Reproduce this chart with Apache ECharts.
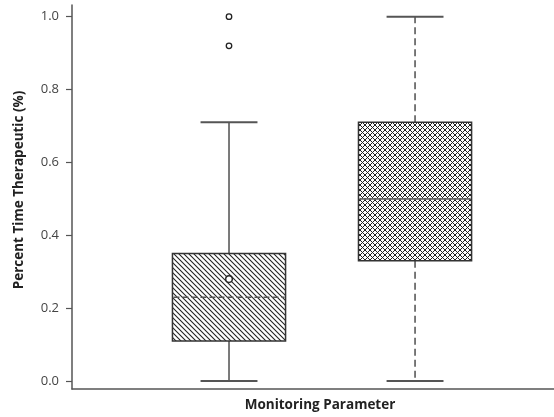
<!DOCTYPE html>
<html>
<head>
<meta charset="utf-8">
<script src="https://cdn.jsdelivr.net/npm/echarts@6/dist/echarts.min.js"></script>
<style>
html,body{margin:0;padding:0;background:#fff;}
#chart{width:554px;height:417px;}
</style>
</head>
<body>
<div id="chart"></div>
<script>
// ---- data ----
const categories = ['Parameter A', 'Parameter B'];
const positions = [1, 2];
const whiskerLow = [0.00, 0.00];
const q1 = [0.11, 0.33];
const median = [0.23, 0.50];
const q3 = [0.35, 0.71];
const whiskerHigh = [0.71, 1.00];
const means = [0.28, null];
const outlierCategory = [0, 0];
const outlierValues = [0.92, 1.00];
const yTicks = [0, 0.2, 0.4, 0.6, 0.8, 1.0];

// ---- patterns ----
function hatchPattern() {
  const s = 5, c = document.createElement('canvas');
  c.width = s; c.height = s;
  const g = c.getContext('2d');
  g.fillStyle = '#fff'; g.fillRect(0, 0, s, s);
  g.strokeStyle = '#222'; g.lineWidth = 1.1;
  for (const o of [-s, 0, s]) {
    g.beginPath(); g.moveTo(o - 1, -1); g.lineTo(o + s + 1, s + 1); g.stroke();
  }
  return c;
}
function crossPattern() {
  const s = 10, p = 5, c = document.createElement('canvas');
  c.width = s; c.height = s;
  const g = c.getContext('2d');
  g.fillStyle = '#fff'; g.fillRect(0, 0, s, s);
  g.strokeStyle = '#222'; g.lineWidth = 1.0;
  for (let o = -2 * s; o <= 2 * s; o += p) {
    g.beginPath(); g.moveTo(o - 1, -1); g.lineTo(o + s + 1, s + 1); g.stroke();
    g.beginPath(); g.moveTo(o - 1, s + 1); g.lineTo(o + s + 1, -1); g.stroke();
  }
  return c;
}
const fills = [hatchPattern(), crossPattern()];
const whiskerDash = [null, [7, 4]];
const medianStyle = [
  { stroke: '#555', lineWidth: 1.3, lineDash: [6, 3] },
  { stroke: '#6a6a6a', lineWidth: 1.8 }
];

const boxData = positions.map((p, i) => [p, whiskerLow[i], q1[i], median[i], q3[i], whiskerHigh[i], means[i] == null ? '-' : means[i]]);
const outlierData = outlierCategory.map((c, i) => [positions[c], outlierValues[i]]);

function renderItem(params, api) {
  const i = params.dataIndex;
  const x = api.value(0);
  const boxHalf = 0.304, capHalf = 0.153;
  const pLow = api.coord([x, api.value(1)]);
  const pQ1 = api.coord([x, api.value(2)]);
  const pMed = api.coord([x, api.value(3)]);
  const pQ3 = api.coord([x, api.value(4)]);
  const pHigh = api.coord([x, api.value(5)]);
  const bl = api.coord([x - boxHalf, 0])[0];
  const br = api.coord([x + boxHalf, 0])[0];
  const cl = api.coord([x - capHalf, 0])[0];
  const cr = api.coord([x + capHalf, 0])[0];
  const cx = pLow[0];
  const wStyle = { stroke: '#222', lineWidth: 1.2, lineDash: whiskerDash[i] };
  const children = [
    { type: 'line', shape: { x1: cx, y1: pQ3[1], x2: cx, y2: pHigh[1] }, style: wStyle },
    { type: 'line', shape: { x1: cx, y1: pQ1[1], x2: cx, y2: pLow[1] }, style: wStyle },
    { type: 'line', shape: { x1: cl, y1: pHigh[1], x2: cr, y2: pHigh[1] }, style: { stroke: '#555', lineWidth: 2 } },
    { type: 'line', shape: { x1: cl, y1: pLow[1], x2: cr, y2: pLow[1] }, style: { stroke: '#555', lineWidth: 2 } },
    { type: 'rect', shape: { x: bl, y: pQ3[1], width: br - bl, height: pQ1[1] - pQ3[1] },
      style: { fill: { image: fills[i], repeat: 'repeat' }, stroke: '#333', lineWidth: 1.5 } },
    { type: 'line', shape: { x1: bl + 1, y1: pMed[1], x2: br - 1, y2: pMed[1] }, style: medianStyle[i] }
  ];
  const m = api.value(6);
  if (m !== '-' && !isNaN(m)) {
    const pm = api.coord([x, m]);
    children.push({ type: 'circle', shape: { cx: pm[0], cy: pm[1], r: 3.3 }, style: { fill: '#fff', stroke: '#222', lineWidth: 1.4 } });
  }
  return { type: 'group', children };
}

const chart = echarts.init(document.getElementById('chart'), null, { renderer: 'canvas' });
chart.setOption({
  animation: false,
  backgroundColor: '#fff',
  textStyle: { fontFamily: 'Open Sans' },
  grid: { left: 72, right: 0, top: 5, bottom: 26 },
  xAxis: {
    type: 'value', min: 0.156, max: 2.747,
    name: 'Monitoring Parameter', nameLocation: 'middle', nameGap: 9,
    nameTextStyle: { fontFamily: 'Open Sans', fontWeight: 'bold', fontSize: 13.5, color: '#222', padding: [0, 0, 0, 14] },
    axisLine: { show: true, onZero: false, lineStyle: { color: '#555', width: 1.5 } },
    axisTick: { show: false }, axisLabel: { show: false }, splitLine: { show: false }
  },
  yAxis: {
    type: 'value', min: -0.0218, max: 1.032,
    name: 'Percent Time Therapeutic (%)', nameLocation: 'middle', nameGap: 46,
    nameTextStyle: { fontFamily: 'Open Sans', fontWeight: 'bold', fontSize: 13.5, color: '#222', padding: [0, 0, 0, 14] },
    axisLine: { show: true, onZero: false, lineStyle: { color: '#555', width: 1.5 } },
    axisTick: { show: true, length: 6, customValues: yTicks, lineStyle: { color: '#555', width: 1.2 } },
    axisLabel: { show: true, customValues: yTicks, margin: 13, fontSize: 13, color: '#444', fontFamily: 'Open Sans',
      formatter: v => v.toFixed(1) },
    splitLine: { show: false }
  },
  series: [
    { type: 'custom', name: 'box', renderItem, data: boxData, encode: { x: 0, y: [1, 2, 3, 4, 5] }, clip: false, z: 2 },
    { type: 'scatter', name: 'outliers', data: outlierData, symbol: 'circle', symbolSize: 5.5,
      itemStyle: { color: '#fff', borderColor: '#222', borderWidth: 1.3, opacity: 1 }, z: 3 }
  ]
});
</script>
</body>
</html>
